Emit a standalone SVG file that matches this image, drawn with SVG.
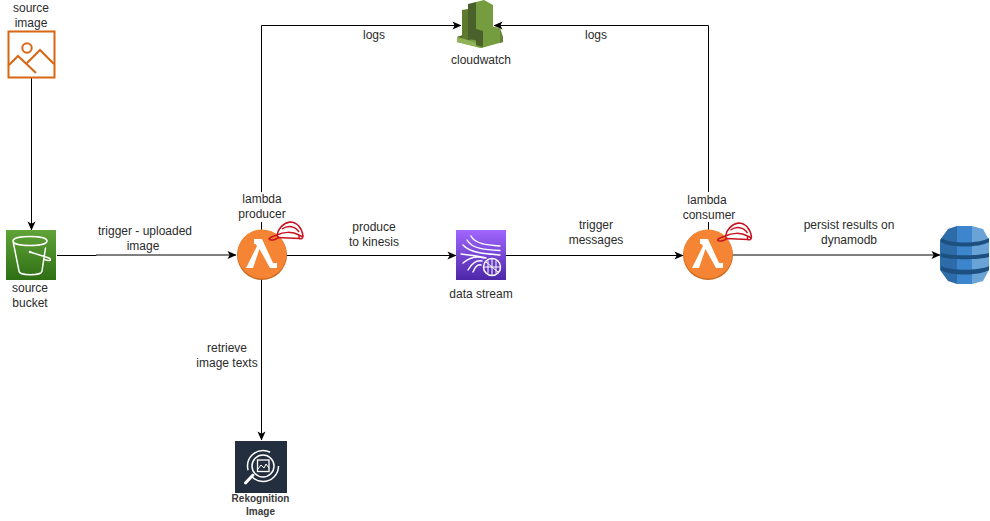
<svg xmlns="http://www.w3.org/2000/svg" width="990" height="521" viewBox="0 0 990 521">
<style>
.t{font-family:"Liberation Sans",Arial,sans-serif;font-size:12px;fill:#2b2b2b;text-anchor:middle}
.r{font-size:10px;font-weight:700;fill:#3a3a3a}
.c{fill:none;stroke:#000;stroke-width:1;marker-end:url(#a)}
.h{fill:none;stroke:#c7131f;stroke-width:1.500;stroke-linejoin:round}
.w{fill:none;stroke:#fff;stroke-linecap:round;stroke-linejoin:round}
</style>
<defs>
<marker id="a" viewBox="0 0 10 10" refX="9.500" refY="5" markerWidth="9" markerHeight="9" markerUnits="userSpaceOnUse" orient="auto"><path d="M0 0.500L10 5L0 9.500L2.500 5Z" fill="#000"/></marker>
<linearGradient id="gs3" x1="0" y1="1" x2="0" y2="0"><stop offset="0" stop-color="#2e6f14"/><stop offset="1" stop-color="#60a337"/></linearGradient>
<linearGradient id="gk" x1="0" y1="1" x2="0" y2="0"><stop offset="0" stop-color="#4d27a8"/><stop offset="1" stop-color="#a166ff"/></linearGradient>
<g id="lambda"><circle cx="0" cy="0" r="25" fill="#c9691f"/><circle cx="0" cy="-1" r="24.500" fill="#f58534"/><path fill="#fff" d="M-8-16H0L11 8H15V13H8L-2.500-6L-9 13H-16L-5-9L-6.500-11H-8Z"/></g>
<g id="hat"><path class="h" d="M-17 7C-15 4-11 4-9 3C-8-3-3-9 4-10C11-10 16-4 17 4C17 7 15 7 13 6.500L-8 5.500C-10 8-16 9-17 7Z"/><path class="h" d="M-9 3C-3 0 6-1 13 3L17 5M-4-3C2-7 9-6 13 0M-8 5.500L-9 3M13 3L13 6.500"/></g>
</defs>
<rect width="990" height="521" fill="#fff"/>
<g id="connectors">
<path class="c" d="M31.500 78V230"/>
<path class="c" d="M57 255.500H96V255H236"/>
<path class="c" d="M261.500 230V25.500H461"/>
<path class="c" d="M287 255.500H456"/>
<path class="c" d="M506 255.500H683"/>
<path class="c" d="M733 255H940"/>
<path class="c" d="M708.500 230V25.500H494"/>
<path class="c" d="M261.500 280V440"/>
</g>
<g id="source-image">
<rect x="8.500" y="31.500" width="46" height="46" fill="#fff" stroke="#d86613" stroke-width="2"/>
<circle cx="27" cy="48" r="4.700" fill="none" stroke="#d86613" stroke-width="2"/>
<path d="M9 65L18 56L36 73M27 63L40 50L54 64" fill="none" stroke="#d86613" stroke-width="2"/>
<text class="t" x="31" y="12">source</text><text class="t" x="31" y="27">image</text>
</g>
<g id="source-bucket">
<rect x="6" y="230" width="50" height="50" fill="url(#gs3)"/>
<path class="w" style="stroke-width:1.500" d="M13 241C13 235 47 235 47 241C47 247 13 247 13 241ZM13 241L19 271C19 276 42 276 42 271L45.500 248M30 252L49 258C51 259 51 261 48 260.500L44 259.500"/>
<circle cx="30" cy="252" r="1.300" fill="#fff"/>
<text class="t" x="30" y="292">source</text><text class="t" x="30" y="307">bucket</text>
</g>
<g id="lambda-producer">
<rect x="238" y="192" width="48" height="30" fill="#fff"/>
<use href="#lambda" x="262" y="255"/>
<use href="#hat" x="286" y="232"/>
<text class="t" x="262" y="203">lambda</text><text class="t" x="262" y="218">producer</text>
</g>
<g id="cloudwatch">
<path fill="#759c3e" d="M457 37L470 33H493L503 37V42L481 48L457 42Z"/>
<path fill="#4b612c" d="M457 37L470 33H480V41Z"/>
<path fill="#5d7a2e" d="M462 10L468 9V40L462 38Z"/>
<path fill="#4b612c" d="M468 4L476 2V38L468 40Z"/>
<path fill="#759c3e" d="M476 2L484 0L493 5V34L476 38Z"/>
<path fill="#8fb356" d="M457 37L480 44V48L481 48L457 42Z"/>
<path fill="#759c3e" d="M476 29L490 26L500 28V42L481 48L476 46Z"/>
<path fill="#4b612c" d="M476 29L483 31V47L476 45Z"/>
<path fill="#648339" d="M500 28L503 37V42L500 43Z"/>
<text class="t" x="481" y="64">cloudwatch</text>
</g>
<g id="data-stream">
<rect x="456" y="230" width="50" height="50" fill="url(#gk)"/>
<path class="w" style="stroke-width:1.400" d="M471 236C475 244 487 245 500 246M467 240C472 249 486 250 500 250.500M463 245C470 253 486 254 500 255M461 254C470 255 480 256 486 258M463 263C470 257 478 256 484 258M468 270C472 263 477 260 482 261M473 272C475 267 478 264 481 265"/>
<circle cx="492" cy="267" r="8.500" fill="none" stroke="#fff" stroke-width="1.500"/>
<path class="w" style="stroke-width:1" d="M484 267H500M492 259V275M486 262L498 272M488 261V273M496 261V273"/>
<text class="t" x="481" y="298">data stream</text>
</g>
<g id="lambda-consumer">
<rect x="685" y="192" width="48" height="30" fill="#fff"/>
<use href="#lambda" x="708" y="255"/>
<use href="#hat" x="734.500" y="233"/>
<text class="t" x="707" y="204">lambda</text><text class="t" x="709" y="219">consumer</text>
</g>
<g id="dynamodb">
<path fill="#2d6ca8" d="M940 240L948 229L957 226V284L948 281L940 270Z"/>
<path fill="#3d85cc" d="M957 226H972V284H957Z"/>
<path fill="#6aa3d5" d="M972 226L983 229L989 240V270L983 281L972 284Z"/>
<path fill="#1d4f80" d="M941 238C950 244 979 244 989 238V242C979 248 950 248 941 242ZM941 253C950 256 979 256 989 253V257C979 260 950 260 941 257ZM941 266C950 271 979 271 989 266V270C979 276 950 276 941 270Z"/>
</g>
<g id="rekognition-image">
<rect x="235" y="441" width="52" height="52" fill="#232f3e"/>
<circle cx="263" cy="466" r="15.500" fill="none" stroke="#fff" stroke-width="1.500" stroke-dasharray="38 6 36 18"/>
<circle cx="263" cy="466" r="11" fill="none" stroke="#fff" stroke-width="1.500"/>
<rect x="257.500" y="460" width="11.500" height="11.500" fill="none" stroke="#fff" stroke-width="1.300"/>
<path class="w" style="stroke-width:1" d="M258 469L261 465L264 468L266 464L269 468"/>
<path fill="none" stroke="#fff" stroke-width="3" stroke-linecap="round" d="M253 475L245.500 483"/>
<text class="t r" x="260.500" y="502">Rekognition</text>
<text class="t r" x="260.500" y="515">Image</text>
</g>
<g id="labels">
<text class="t" x="374" y="39">logs</text>
<text class="t" x="596" y="39">logs</text>
<text class="t" x="145" y="235">trigger - uploaded</text><text class="t" x="143" y="250">image</text>
<text class="t" x="374" y="231">produce</text><text class="t" x="374" y="246">to kinesis</text>
<text class="t" x="596" y="229">trigger</text><text class="t" x="596" y="244">messages</text>
<text class="t" x="849" y="229">persist results on</text><text class="t" x="849" y="244">dynamodb</text>
<text class="t" x="227" y="352">retrieve</text><text class="t" x="227" y="367">image texts</text>
</g>
</svg>
